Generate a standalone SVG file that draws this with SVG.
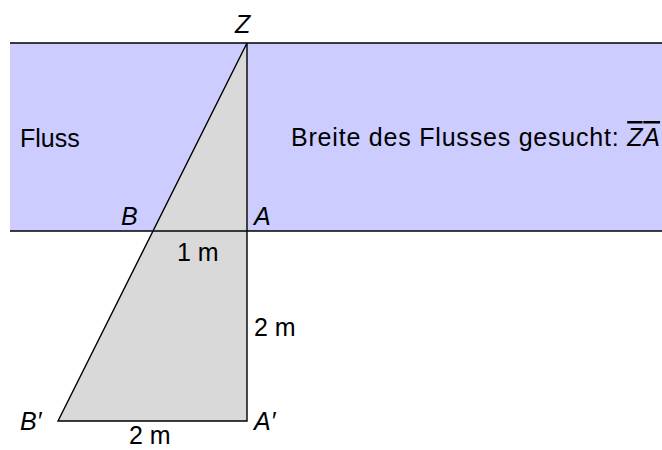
<svg xmlns="http://www.w3.org/2000/svg" width="662" height="450" viewBox="0 0 662 450">
<style>
text{font-family:"Liberation Sans",Arial,sans-serif;font-size:25px;fill:#000}
.it{font-style:italic}
.ln{stroke:#000;stroke-width:1.4;fill:none}
</style>
<rect width="662" height="450" fill="#fff"/>
<g id="river">
<rect x="10" y="43" width="652" height="188" fill="#ccccff"/>
</g>
<g id="triangle">
<polygon points="247,43 58,421 247,421" fill="#d9d9d9" stroke="#000" stroke-width="1.4" stroke-linejoin="miter"/>
</g>
<g id="connectors">
<line class="ln" x1="10" y1="43" x2="662" y2="43"/>
<line class="ln" x1="10" y1="231" x2="662" y2="231"/>
</g>
<g id="labels">
<text class="it" x="235" y="33">Z</text>
<text x="20" y="147">Fluss</text>
<text x="291" y="146" textLength="369" lengthAdjust="spacing">Breite des Flusses gesucht: <tspan class="it" text-decoration="overline">ZA</tspan></text>
<text class="it" x="121" y="225">B</text>
<text class="it" x="254" y="225">A</text>
<text x="177" y="261">1 m</text>
<text x="254" y="336">2 m</text>
<text class="it" x="20" y="430">B′</text>
<text class="it" x="254" y="430">A′</text>
<text x="129" y="444">2 m</text>
</g>
</svg>
